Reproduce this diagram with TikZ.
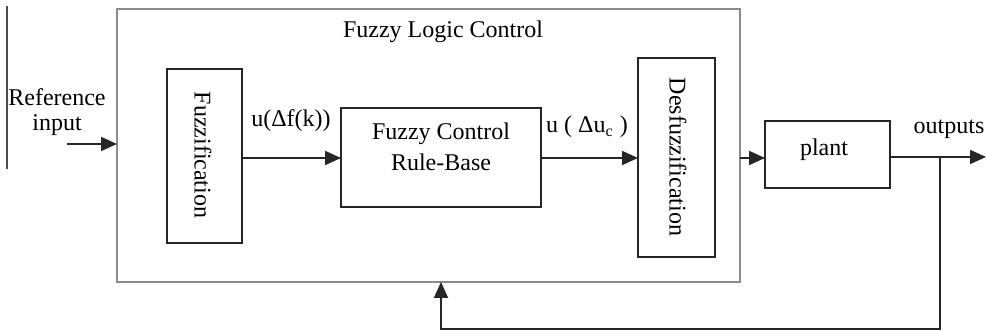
\documentclass[tikz,border=0pt]{standalone}
\usepackage{fontspec}
\setmainfont[Ligatures=NoCommon]{Liberation Serif}
\usetikzlibrary{arrows.meta}
\begin{document}
\begin{tikzpicture}[x=0.5pt,y=-0.5pt,
  blk/.style={draw=black!85, line width=1pt, inner sep=0pt, outer sep=0pt},
  outerbox/.style={draw=black!45, line width=1pt, inner sep=0pt, outer sep=0pt},
  txt/.style={font=\fontsize{12}{15.5}\selectfont, inner sep=0pt, align=center},
  arr/.style={draw=black!85, line width=0.9pt, -{Triangle[length=8pt,width=7pt]}},
  ln/.style={draw=black!85, line width=0.9pt}]
\useasboundingbox (0,0) rectangle (986,330);
% outer box
\node[outerbox, minimum width=311.5pt, minimum height=136.5pt] (outer) at (428.5,145.5) {};
\node[txt] (title) at (443,32) {Fuzzy Logic Control};
% blocks
\node[blk, minimum width=37.5pt, minimum height=87pt] (fuzz) at (204.5,156) {};
\node[txt, rotate=-90] (fuzzt) at (203,155) {Fuzzification};
\node[blk, minimum width=100pt, minimum height=49.5pt] (rule) at (441,157.5) {};
\node[txt] (rulet) at (441,147) {Fuzzy Control\\Rule-Base};
\node[blk, minimum width=38.5pt, minimum height=99.5pt] (desf) at (676.5,157.5) {};
\node[txt, rotate=-90] (desft) at (678,157) {Desfuzzification};
\node[blk, minimum width=62.5pt, minimum height=33.5pt] (plant) at (827.5,154.5) {};
\node[txt] (plantt) at (824,150) {plant};
% labels
\node[txt] (ref1) at (57,97) {Reference};
\node[txt] (ref2) at (57,125) {input};
\node[txt] (lab1) at (291,121) {u(Δf(k))};
\node[txt] (lab2) at (587,127) {u ( Δu\textsubscript{c} )};
\node[txt] (outl) at (949,129) {outputs};
% stray left line
\coordinate (lt) at (7,6);
\coordinate (lb) at (7,169);
\draw[ln, draw=black!70] (lt) -- (lb);
% connectors
\coordinate (inA) at (67,144);
\draw[arr] (inA) -- (inA -| outer.west);
\coordinate (y1) at (0,158);
\draw[arr] (fuzz.east |- y1) -- (rule.west |- y1);
\draw[arr] (rule.east |- y1) -- (desf.west |- y1);
\coordinate (y2) at (0,158);
\draw[arr] (outer.east |- y2) -- (plant.west |- y2);
\coordinate (outE) at (986,157);
\draw[arr] (plant.east |- outE) -- (outE);
\coordinate (fb) at (940,157);
\coordinate (fbB) at (441,329);
\draw[arr] (fb) |- (fbB) -- (fbB |- outer.south);
\end{tikzpicture}
\end{document}
